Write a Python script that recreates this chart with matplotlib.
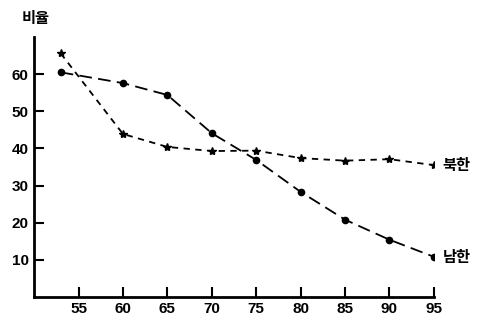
import matplotlib.pyplot as plt

plt.rcParams['font.family'] = ['Liberation Sans', 'Noto Sans CJK KR']

# data
years = [53, 60, 65, 70, 75, 80, 85, 90, 95]
south = [60.5, 57.6, 54.4, 44.1, 36.9, 28.3, 20.8, 15.4, 10.8]
north = [65.6, 43.9, 40.4, 39.3, 39.4, 37.4, 36.7, 37.1, 35.5]
xticks = [55, 60, 65, 70, 75, 80, 85, 90, 95]
yticks = [10, 20, 30, 40, 50, 60]

fig = plt.figure(figsize=(4.8, 3.31), dpi=100)
ax = fig.add_axes([0.071, 0.103, 0.833, 0.785])

ax.plot(years, south, color='black', lw=1.3, dashes=(7, 3.5),
        marker='o', ms=4.5, label='남한')
ax.plot(years, north, color='black', lw=1.3, dashes=(3.5, 3),
        marker='*', ms=6, label='북한')

ax.set_xlim(50, 95)
ax.set_ylim(0, 70)
ax.set_xticks(xticks)
ax.set_yticks(yticks)

for s in ['top', 'right']:
    ax.spines[s].set_visible(False)
for s in ['left', 'bottom']:
    ax.spines[s].set_linewidth(2)

ax.tick_params(direction='in', length=7, width=1.5, pad=4, labelsize=11)
for lab in ax.get_xticklabels() + ax.get_yticklabels():
    lab.set_fontweight('bold')

ax.text(96, north[-1], '북한', fontsize=11, fontweight='bold',
        family='Noto Sans CJK KR', va='center', ha='left', clip_on=False)
ax.text(96, south[-1], '남한', fontsize=11, fontweight='bold',
        family='Noto Sans CJK KR', va='center', ha='left', clip_on=False)
fig.text(0.046, 0.945, '비율', fontsize=11, fontweight='bold',
         family='Noto Sans CJK KR', va='center', ha='left')

fig.savefig('out.png', dpi=100)
